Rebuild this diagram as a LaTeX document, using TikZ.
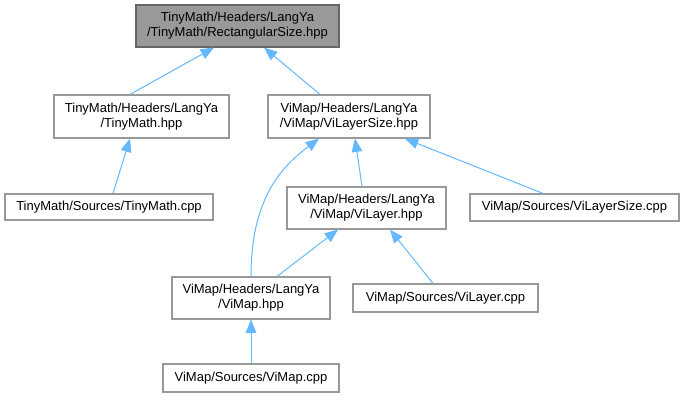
\documentclass[tikz,border=0pt]{standalone}
\usepackage{fontspec}
\setmainfont{Liberation Sans}
\usetikzlibrary{arrows.meta,calc}
\definecolor{edgeblue}{HTML}{63B8FF}
\definecolor{boxborder}{HTML}{999999}
\definecolor{rootfill}{HTML}{999999}
\definecolor{rootborder}{HTML}{666666}
\tikzset{
  box/.style={draw=boxborder, fill=white, line width=0.9pt, inner sep=0pt, align=center,
    font=\fontsize{9.75pt}{11.25pt}\selectfont, text=black},
  rootbox/.style={box, draw=rootborder, fill=rootfill},
  edge/.style={draw=edgeblue, line width=0.75pt, -{Triangle[length=10pt,width=8pt]}},
}
\begin{document}
\begin{tikzpicture}[x=0.75pt,y=-0.75pt]
\useasboundingbox[fill=white] (0,0) rectangle (685,400);
\node[rootbox, minimum width=203*0.75pt, minimum height=42*0.75pt] (top) at (237.5,26) {TinyMath/Headers/LangYa\\/TinyMath/RectangularSize.hpp};
\node[box, minimum width=175*0.75pt, minimum height=43*0.75pt] (tmh) at (141.5,116.5) {TinyMath/Headers/LangYa\\/TinyMath.hpp};
\node[box, minimum width=162*0.75pt, minimum height=43*0.75pt] (vlsh) at (349,116.5) {ViMap/Headers/LangYa\\/ViMap/ViLayerSize.hpp};
\node[box, minimum width=208*0.75pt, minimum height=26*0.75pt] (tmc) at (109,207) {TinyMath/Sources/TinyMath.cpp};
\node[box, minimum width=159*0.75pt, minimum height=42*0.75pt] (vlh) at (366.5,208) {ViMap/Headers/LangYa\\/ViMap/ViLayer.hpp};
\node[box, minimum width=209*0.75pt, minimum height=27*0.75pt] (vlsc) at (574.5,207.5) {ViMap/Sources/ViLayerSize.cpp};
\node[box, minimum width=158*0.75pt, minimum height=42*0.75pt] (vmh) at (251,298) {ViMap/Headers/LangYa\\/ViMap.hpp};
\node[box, minimum width=185*0.75pt, minimum height=28*0.75pt] (vlc) at (445.5,298) {ViMap/Sources/ViLayer.cpp};
\node[box, minimum width=176*0.75pt, minimum height=28*0.75pt] (vmc) at (251,378) {ViMap/Sources/ViMap.cpp};

\draw[edge] ($(tmh.north)+(-11.5,0)$) -- ($(top.south)+(-23.5,0)$);
\draw[edge] ($(vlsh.north)+(-29,0)$) -- ($(top.south)+(26.5,0)$);
\draw[edge] ($(tmc.north)+(4,0)$) -- ($(tmh.south)+(-11.5,0)$);
\draw[edge] ($(vlh.north)+(-4.5,0)$) -- ($(vlsh.south)+(6,0)$);
\draw[edge] ($(vlsc.north)+(-31.5,0)$) -- ($(vlsh.south)+(56,0)$);
\draw[edge] (vmh.north) .. controls ($(vmh.north)+(0,-75)$) and ($(vlsh.south)+(-70,30)$) .. ($(vlsh.south)+(-30,0)$);
\draw[edge] ($(vmh.north)+(26,0)$) -- ($(vlh.south)+(-28.5,0)$);
\draw[edge] ($(vlc.north)+(-12.5,0)$) -- ($(vlh.south)+(23.5,0)$);
\draw[edge] (vmc.north) -- (vmh.south);
\end{tikzpicture}
\end{document}
